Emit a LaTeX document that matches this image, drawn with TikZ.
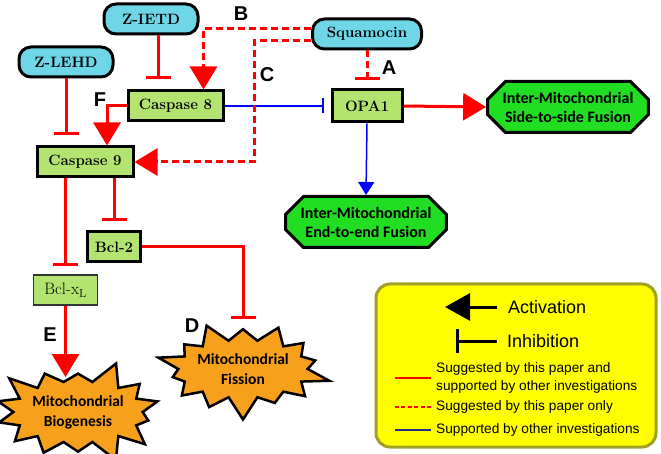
\documentclass[tikz,border=0pt]{standalone}
\usepackage{fontspec}
\usepackage{tikz}
\usetikzlibrary{arrows.meta,shapes.misc,shapes.symbols,positioning}
\newfontfamily\arialfont{Liberation Sans}
\newfontfamily\calibrifont{Carlito}
\definecolor{drugblue}{RGB}{110,214,230}
\definecolor{protgreen}{RGB}{180,228,112}
\definecolor{fusegreen}{RGB}{34,222,34}
\definecolor{burstorange}{RGB}{247,160,28}
\definecolor{legendolive}{RGB}{160,160,40}
\definecolor{legendyellow}{RGB}{255,255,0}
\definecolor{legendblue}{RGB}{40,40,150}

\begin{document}
\begin{tikzpicture}[x=1pt,y=-1pt,
    drug/.style={draw,fill=drugblue,line width=3pt,rounded corners=12pt,minimum height=30pt,font=\bfseries\fontsize{15}{17}\selectfont},
    prot/.style={draw,fill=protgreen,line width=3pt,minimum height=30pt,inner sep=0pt,font=\bfseries\fontsize{15}{17}\selectfont},
    fusion/.style={chamfered rectangle,chamfered rectangle xsep=15pt,draw,fill=fusegreen,line width=3pt,minimum width=158pt,minimum height=51pt,align=center,inner sep=0pt,font=\calibrifont\bfseries\fontsize{16}{19}\selectfont},
    burst/.style={starburst,draw,fill=burstorange,line width=2.5pt,starburst points=14,starburst point height=24pt,align=center,inner xsep=0pt,inner ysep=5pt,font=\calibrifont\bfseries\fontsize{15.5}{20}\selectfont},
    letter/.style={font=\arialfont\bfseries\fontsize{20}{22}\selectfont},
    act/.style={red,line width=3pt,-{Triangle[width=27pt,length=23pt]}},
    inh/.style={red,line width=3pt,-{Bar[width=25pt]}},
    onlypaper/.style={dash pattern=on 7pt off 4pt},
    other/.style={blue,line width=1.5pt},
    legendbox/.style={draw=legendolive,fill=legendyellow,line width=3pt,rounded corners=14pt,minimum width=280pt,minimum height=163pt},
    legendbig/.style={inner sep=1pt,font=\arialfont\fontsize{18}{20}\selectfont},
    legendsmall/.style={inner sep=1pt,align=left,font=\arialfont\fontsize{13.7}{18}\selectfont}]
\useasboundingbox (0,0) rectangle (661,454);

\node[drug,minimum width=94pt] (zietd) at (151,19) {Z-IETD};
\node[drug,minimum width=94pt] (zlehd) at (66,62) {Z-LEHD};
\node[drug,minimum width=109pt] (squam) at (367,34) {Squamocin};
\node[prot,minimum width=95pt] (casp8) at (175.5,106) {Caspase 8};
\node[prot,minimum width=96pt] (casp9) at (85,162) {Caspase 9};
\node[prot,minimum width=70pt,minimum height=32pt] (opa1) at (367,106) {OPA1};
\node[prot,minimum width=53pt] (bcl2) at (114,247) {Bcl-2};
\node[prot,minimum width=64pt,line width=1.2pt,draw=black!80,font=\fontsize{16.5}{18}\selectfont] (bclxl) at (65.5,290) {Bcl-x$_{\mathrm{L}}$};
\node[fusion] (sidefuse) at (568,107) {Inter-Mitochondrial\\Side-to-side Fusion};
\node[fusion] (endfuse) at (366,222) {Inter-Mitochondrial\\End-to-end Fusion};
\node[burst,random starburst=9,shape border rotate=-8] (fission) at (243,369) {Mitochondrial\\Fission};
\node[burst,random starburst=3,shape border rotate=6] (biogen) at (78,412) {Mitochondrial\\Biogenesis};
\coordinate (fissbar) at (243,319);
\coordinate (biotip) at (65.5,377);

\draw[other,-{Bar[width=15pt]},shorten >=7pt] (casp8.east) -- (opa1.west);
\draw[other,-{Triangle[width=16pt,length=13pt]}] (opa1.south) -- (endfuse.north);
\draw[inh,shorten >=10pt] ([xshift=7pt]zietd.south) -- ([xshift=7pt]zietd.south |- casp8.north);
\draw[inh,shorten >=10pt] (zlehd.south) -- (zlehd.south |- casp9.north);
\draw[act,onlypaper] ([yshift=5pt]squam.west) -| ([xshift=28pt]casp8.north);
\draw[act,onlypaper] ([yshift=-7pt]squam.west) -- ++(-57,0) |- (casp9.east);
\draw[inh,onlypaper,shorten >=8pt] (squam.south) -- (opa1.north);
\draw[act] (casp8.west) -| ([xshift=22pt]casp9.north);
\draw[act] (opa1.east) -- (sidefuse.west);
\draw[inh,shorten >=8pt] (bclxl |- casp9.south) -- (bclxl.north);
\draw[inh,shorten >=9pt] (bcl2 |- casp9.south) -- (bcl2.north);
\draw[inh] (bcl2.east) -| (fissbar);
\draw[act] (bclxl.south) -- (biotip);

\node[letter] (la) at (389,68) {A};
\node[letter] (lb) at (241,14) {B};
\node[letter] (lc) at (267,75) {C};
\node[letter] (ld) at (192,326) {D};
\node[letter] (le) at (50,335) {E};
\node[letter] (lf) at (100,100) {F};

\node[legendbox] (legend) at (516,365.5) {};
\coordinate (actfrom) at (497,307);
\coordinate (actto) at (445,307);
\coordinate (inhfrom) at (497,341);
\coordinate (inhto) at (456,341);
\draw[line width=3pt,-{Triangle[width=27pt,length=25pt]}] (actfrom) -- (actto);
\draw[line width=3pt,-{Bar[width=24pt]}] (inhfrom) -- (inhto);
\node[legendbig,anchor=west] (acttext) at (507,307) {Activation};
\node[legendbig,anchor=west] (inhtext) at (506,341) {Inhibition};
\node[legendsmall,anchor=west] (bothtext) at (435,378) {Suggested by this paper and\\supported by other investigations};
\node[legendsmall,anchor=west] (papertext) at (435,407) {Suggested by this paper only};
\node[legendsmall,anchor=west] (othertext) at (435,430) {Supported by other investigations};
\draw[red,line width=2pt] ([xshift=-4pt]bothtext.west) -- ++(-36,0);
\draw[red,line width=2pt,dash pattern=on 4pt off 2.5pt] ([xshift=-4pt]papertext.west) -- ++(-36,0);
\draw[legendblue,line width=1.3pt] ([xshift=-4pt]othertext.west) -- ++(-36,0);
\end{tikzpicture}
\end{document}
